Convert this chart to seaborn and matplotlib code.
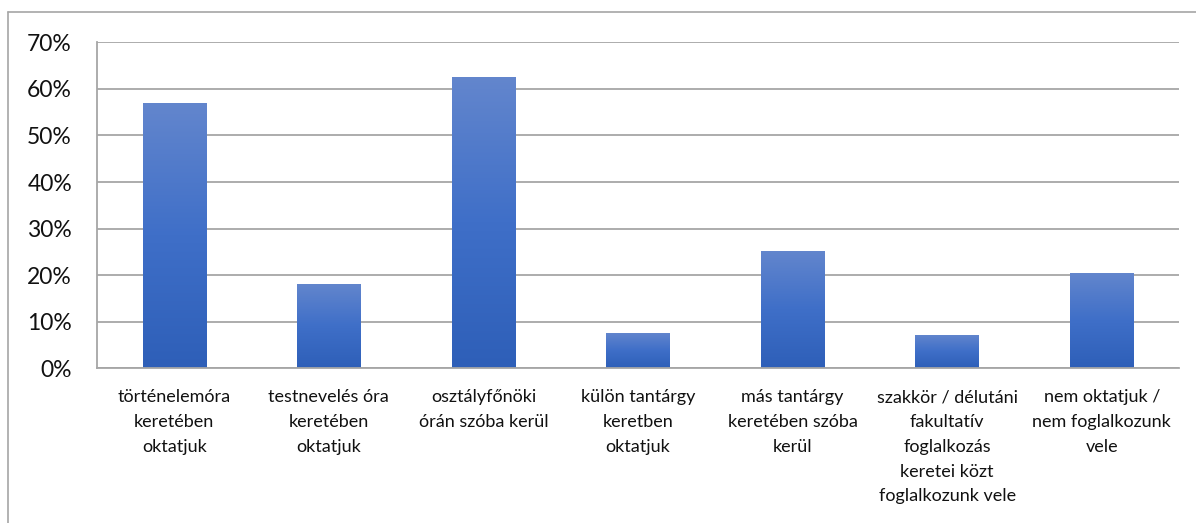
import numpy as np
import pandas as pd
import matplotlib
matplotlib.use("Agg")
import matplotlib.pyplot as plt
import seaborn as sns
from matplotlib.colors import LinearSegmentedColormap
from matplotlib.lines import Line2D

categories = [
    "történelemóra\nkeretében\noktatjuk",
    "testnevelés óra\nkeretében\noktatjuk",
    "osztályfőnöki\nórán szóba kerül",
    "külön tantárgy\nkeretben\noktatjuk",
    "más tantárgy\nkeretében szóba\nkerül",
    "szakkör / délutáni\nfakultatív\nfoglalkozás\nkeretei közt\nfoglalkozunk vele",
    "nem oktatjuk /\nnem foglalkozunk\nvele",
]
values = [0.57, 0.181, 0.625, 0.076, 0.252, 0.072, 0.205]
yticks = [0, 0.1, 0.2, 0.3, 0.4, 0.5, 0.6, 0.7]
ytick_labels = ["0%", "10%", "20%", "30%", "40%", "50%", "60%", "70%"]

sns.set_theme(style="white")
plt.rcParams["font.family"] = ["Lato", "DejaVu Sans"]

df = pd.DataFrame({"cat": categories, "val": values})

fig = plt.figure(figsize=(11.96, 5.23), dpi=100)
ax = fig.add_axes([97 / 1196, 1 - 368.3 / 523, (1179 - 97) / 1196, (368.3 - 42.3) / 523])

sns.barplot(data=df, x="cat", y="val", color="#4472C4", width=0.41, ax=ax, zorder=2)

ax.set_ylim(0, 0.7)
ax.set_xlim(-0.5, len(categories) - 0.5)
ax.set_yticks(yticks)
ax.set_yticklabels(ytick_labels, fontsize=16.5, color="#111111")
ax.set_xlabel("")
ax.set_ylabel("")

# gradient fill for bars
cmap = LinearSegmentedColormap.from_list("g", ["#2E5FB8", "#3F6FC8", "#6386CD"])
grad = np.linspace(0, 1, 256).reshape(-1, 1)
for p in list(ax.patches):
    x0, y0 = p.get_x(), p.get_y()
    w, h = p.get_width(), p.get_height()
    p.set_facecolor("none")
    p.set_edgecolor("none")
    im = ax.imshow(grad, cmap=cmap, aspect="auto", origin="lower",
                   extent=[x0, x0 + w, y0, y0 + h], zorder=2)
    im.set_clip_path(p)
ax.set_xlim(-0.5, len(categories) - 0.5)
ax.set_ylim(0, 0.7)

# grid
ax.yaxis.grid(True, color="#A6A6A6", linewidth=1.3, zorder=0)
ax.set_axisbelow(True)

for s in ["top", "right"]:
    ax.spines[s].set_visible(False)
for s in ["left", "bottom"]:
    ax.spines[s].set_color("#A6A6A6")
    ax.spines[s].set_linewidth(1.3)

# x tick labels
ax.set_xticks(range(len(categories)))
ax.set_xticklabels(categories, fontsize=13, color="#111111", linespacing=1.68, va="top")
ax.tick_params(axis="x", length=0, pad=15)
# boundary tick marks
ax.set_xticks(np.arange(-0.5, len(categories) + 0.5, 1.0), minor=True)
ax.tick_params(axis="x", which="minor", length=7, width=1.3, color="#A6A6A6", direction="out")
ax.tick_params(axis="y", length=8, width=1.3, color="#A6A6A6", direction="out", pad=10)

# figure border (top and left only visible)
fig.add_artist(Line2D([8 / 1196, 1], [1 - 12 / 523, 1 - 12 / 523], transform=fig.transFigure,
                      color="#A6A6A6", linewidth=1.2))
fig.add_artist(Line2D([8 / 1196, 8 / 1196], [0, 1 - 12 / 523], transform=fig.transFigure,
                      color="#A6A6A6", linewidth=1.2))

fig.savefig("out.png", dpi=100)
